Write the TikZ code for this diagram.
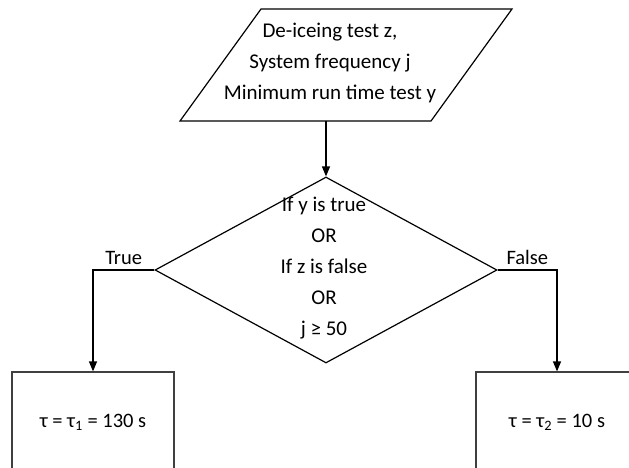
\documentclass[tikz,border=0pt]{standalone}
\usepackage{fontspec}
\setmainfont{Carlito}
\usetikzlibrary{arrows.meta,shapes.geometric}
\begin{document}
\begin{tikzpicture}[x=1pt,y=-1pt,
  line width=1.2pt,
  txt/.style={font=\fontsize{21}{31}\selectfont, align=center, inner sep=0pt},
  lbl/.style={font=\fontsize{20.5}{24}\selectfont, inner sep=0pt},
  outbox/.style={draw=black!75, minimum width=162pt, minimum height=100pt, inner sep=0pt, font=\fontsize{20.5}{24}\selectfont},
  arr/.style={-{Triangle[length=10pt,width=8pt]}}
]
\useasboundingbox (0,0) rectangle (629,468);
\clip (0,0) rectangle (629,468);
% input parallelogram
\draw (261,9) -- (512,9) -- (431,121) -- (180,121) -- cycle;
\node[txt] (inp) at (330,63) {De-iceing test z,\\System frequency j\\Minimum run time test y};
\coordinate (inpb) at (326,121);
% decision
\node[draw, diamond, minimum width=342pt, minimum height=186pt, inner sep=0pt] (dia) at (326,270) {};
\node[txt] (diatext) at (324,268) {If y is true\\OR\\If z is false\\OR\\j ≥ 50};
% result boxes
\node[outbox] (lbox) at (93,422) {τ = τ\textsubscript{1} = 130 s};
\node[outbox] (rbox) at (557,422) {τ = τ\textsubscript{2} = 10 s};
% connectors
\draw[arr] (inpb) -- (dia.north);
\draw[arr] (dia.west) -| node[lbl, pos=0.25, above=5pt] (tl) {True} (lbox.north);
\draw[arr] (dia.east) -| node[lbl, pos=0.25, above=5pt] (fl) {False} (rbox.north);
\end{tikzpicture}
\end{document}
